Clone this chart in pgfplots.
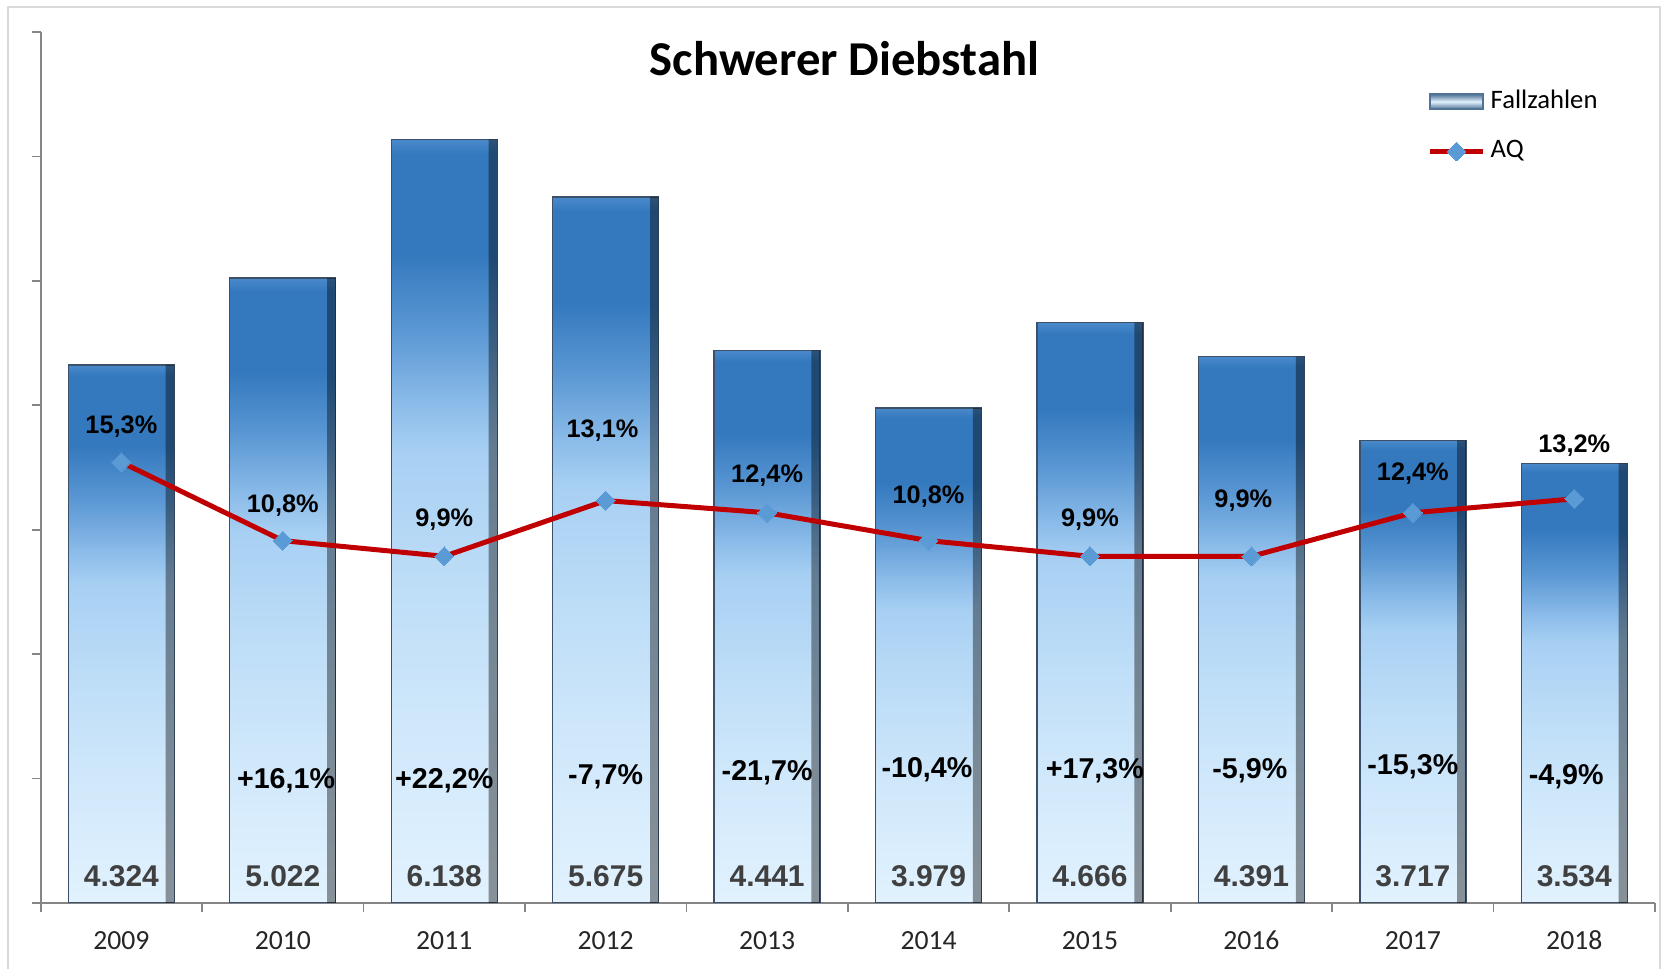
\documentclass[border=0pt]{standalone}
\usepackage{fontspec}
\setmainfont{Carlito}
\newfontfamily\arial{Liberation Sans}
\usepackage{pgfplots}
\pgfplotsset{compat=1.18}

\definecolor{framegray}{RGB}{217,217,217}
\definecolor{axisgray}{RGB}{134,134,134}
\definecolor{sA}{RGB}{226,242,254}
\definecolor{sB}{RGB}{208,232,251}
\definecolor{sC}{RGB}{189,221,247}
\definecolor{sD}{RGB}{168,208,243}
\definecolor{sE}{RGB}{141,189,234}
\definecolor{sF}{RGB}{90,151,211}
\definecolor{sG}{RGB}{52,121,190}
\definecolor{sTop}{RGB}{74,138,203}
\definecolor{baredge}{RGB}{60,80,105}
\definecolor{aqred}{RGB}{192,0,0}
\definecolor{markblue}{RGB}{91,155,213}
\definecolor{numgray}{RGB}{64,64,64}
\definecolor{legdark}{RGB}{80,115,150}

\pgfdeclareverticalshading{barshade}{100bp}{color(0bp)=(sA); color(25bp)=(sA); color(36.5bp)=(sB); color(46bp)=(sC); color(54.5bp)=(sD); color(57.5bp)=(sE); color(62.5bp)=(sF); color(67.5bp)=(sG); color(74bp)=(sG); color(75bp)=(sTop); color(100bp)=(sTop)}

\pgfplotsset{
  base/.style={scale only axis, width=484.3pt, height=261.3pt,
    at={(12.2pt,19.8pt)}, anchor=south west, xmin=-0.5, xmax=9.5},
  bar/.style={ybar, bar width=31.8pt, bar shift=0pt, draw=baredge, line width=0.4pt, shading=barshade},
  lbl/.style={draw=none, mark=none, nodes near coords, point meta=explicit symbolic,
    nodes near coords align={center}},
}

\begin{document}
\begin{tikzpicture}
\useasboundingbox (0,0) rectangle (504pt,290.7pt);
\draw[framegray, line width=0.6pt] (2.4pt,-3pt) rectangle (498pt,288.6pt);

% Fallzahlen
\begin{axis}[base, ymin=0, ymax=7000,
  axis x line=bottom, axis y line=left,
  axis line style={-, draw=axisgray, line width=0.5pt},
  tick align=outside, major tick length=2.6pt,
  tick style={draw=axisgray, line width=0.5pt},
  ytick={0,1000,...,7000}, yticklabels={},
  xtick={-0.5,0.5,...,9.5}, xticklabels={},
  extra x ticks={0,1,...,9},
  extra x tick labels={2009,2010,2011,2012,2013,2014,2015,2016,2017,2018},
  extra x tick style={major tick length=0pt},
  typeset ticklabels with strut,
  xticklabel style={font=\fontsize{8.3pt}{10pt}\selectfont, text=black!85, yshift=-3.5pt},
  title={\textbf{Schwerer Diebstahl}},
  title style={at={(0.498,0.946)}, anchor=center, font=\fontsize{14.6pt}{17pt}\selectfont},
]
\addplot[bar] coordinates {(0,4324)};
\addplot[bar] coordinates {(1,5022)};
\addplot[bar] coordinates {(2,6138)};
\addplot[bar] coordinates {(3,5675)};
\addplot[bar] coordinates {(4,4441)};
\addplot[bar] coordinates {(5,3979)};
\addplot[bar] coordinates {(6,4666)};
\addplot[bar] coordinates {(7,4391)};
\addplot[bar] coordinates {(8,3717)};
\addplot[bar] coordinates {(9,3534)};
% right-hand bevel shadow of the bars
\addplot[ybar, bar width=2.6pt, bar shift=14.6pt, draw=none, fill=black, fill opacity=0.4]
  table {
x y
0 4324
1 5022
2 6138
3 5675
4 4441
5 3979
6 4666
7 4391
8 3717
9 3534
};
\end{axis}

% AQ
\begin{axis}[base, hide axis, ymin=-10, ymax=40,
  legend style={at={(0.8586,0.94)}, anchor=north west, draw=none, fill=none,
    font=\fontsize{8pt}{9.6pt}\selectfont, row sep=5.1pt, inner sep=0pt,
    nodes={inner sep=1.5pt}},
  legend cell align=left,
]
\addlegendimage{legend image code/.code={
  \draw[draw=legdark, line width=0.6pt, top color=legdark, bottom color=legdark, middle color=sA]
    (0pt,-2.2pt) rectangle (16pt,2.2pt);}}
\addplot[aqred, line width=1.5pt, mark=square*, mark size=2pt,
  mark options={fill=markblue, draw=markblue, line width=0pt, rotate=45},
  legend image code/.code={\draw[mark repeat=2,mark phase=2] plot coordinates {(0pt,0pt) (8pt,0pt) (16pt,0pt)};}]
  table {
x y
0 15.3
1 10.8
2 9.9
3 13.1
4 12.4
5 10.8
6 9.9
7 9.9
8 12.4
9 13.2
};
\legend{Fallzahlen, AQ}
\end{axis}

% labels
\begin{axis}[base, hide axis, ymin=0, ymax=7000, clip=false]
\addplot[lbl, nodes near coords style={font=\arial\bfseries\fontsize{7.6pt}{9pt}\selectfont, text=black}]
  table[meta=t] {
x y t
0 3826 15,3\%
1 3190 10,8\%
2 3078 9,9\%
2.98 3800 13,1\%
4 3431 12,4\%
5 3267 10,8\%
6 3078 9,9\%
6.95 3233 9,9\%
8 3448 12,4\%
9 3672 13,2\%
};
\addplot[lbl, nodes near coords style={font=\arial\bfseries\fontsize{8.6pt}{10pt}\selectfont, text=black}]
  table[meta=t] {
x y t
1.02 980 +16,1\%
2 980 +22,2\%
3.0 1015 -7,7\%
4 1049 -21,7\%
4.99 1075 -10,4\%
6.03 1066 +17,3\%
6.99 1066 -5,9\%
8 1092 -15,3\%
8.95 1015 -4,9\%
};
\addplot[lbl, nodes near coords style={font=\arial\bfseries\fontsize{9pt}{10pt}\selectfont, text=numgray}]
  table[meta=t] {
x y t
0 215 4.324
1 215 5.022
2 215 6.138
3 215 5.675
4 215 4.441
5 215 3.979
6 215 4.666
7 215 4.391
8 215 3.717
9 215 3.534
};
\end{axis}
\end{tikzpicture}
\end{document}
